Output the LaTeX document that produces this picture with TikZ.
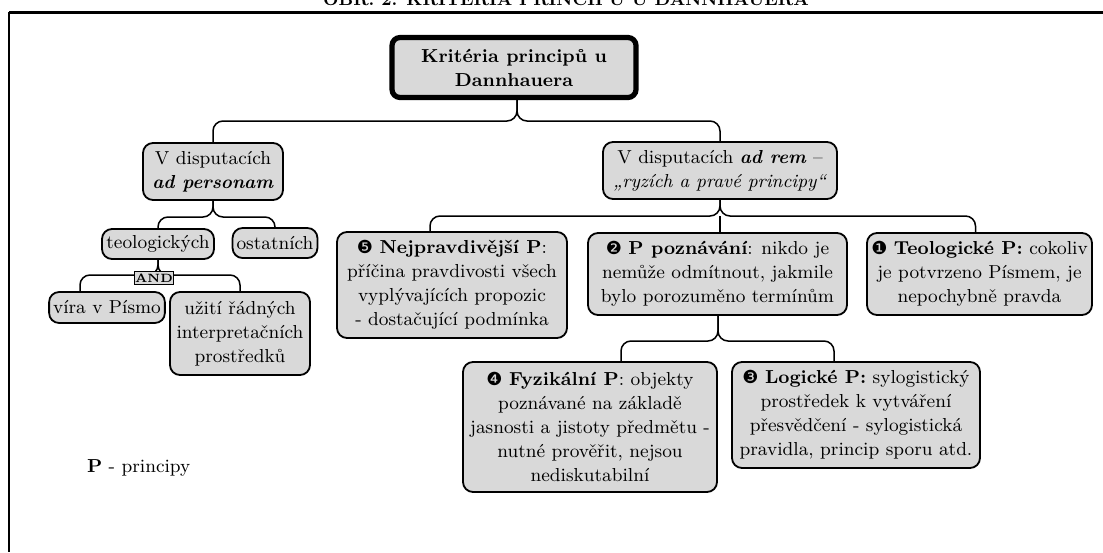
\documentclass[tikz,border=0pt]{standalone}
\usepackage{fontspec}
\newfontfamily\dingfont{DejaVu Sans}
\definecolor{boxgray}{RGB}{217,217,217}
\tikzstyle{every node}=[font=\fontsize{9.4}{12}\selectfont, align=center]
\tikzstyle{topic}=[draw, fill=boxgray, rounded corners=5pt, line width=0.9pt, inner sep=2pt]
\tikzstyle{brace}=[rounded corners=5pt, line width=0.75pt]
\newcommand{\num}[1]{{\dingfont\small #1}}

\begin{document}
\begin{tikzpicture}[x=0.5pt, y=-0.5pt]
\useasboundingbox (0,0) rectangle (1103,552);
% Frame and caption
    \node[anchor=base, font=\fontsize{8.7}{10}\selectfont\bfseries] (caption) at (566,5) {OBR. 2: KRITÉRIA PRINCIPŮ U DANNHAUERA};
    \draw[line width=1.5pt] (9,12) -- (1103,12);
    \draw[line width=0.8pt] (9,12) -- (9,552);
% Root
    \node[topic, line width=2.6pt, rounded corners=4pt, minimum width=122pt, minimum height=30pt] (root) at (514,67.5) {\textbf{Kritéria principů u}\\\textbf{Dannhauera}};
% Disputations
    \node[topic, minimum width=70pt, minimum height=28.5pt] (pers) at (213,171.5) {V disputacích\\\textbf{\textit{ad personam}}};
    \node[topic, minimum width=117pt, minimum height=28.5pt] (rem) at (720,170.5) {V disputacích \textbf{\textit{ad rem}} --\\\textit{„ryzích a pravé principy“}};
% Ad personam
    \node[topic, minimum width=56pt, minimum height=15pt] (teol) at (158,244) {teologických};
    \node[topic, minimum width=42pt, minimum height=15pt] (ost) at (275,243) {ostatních};
    \node[topic, minimum width=50pt, minimum height=15.5pt] (vira) at (107,307.5) {víra v Písmo};
    \node[topic, minimum width=70pt, minimum height=41.5pt] (uziti) at (240,333.5) {užití řádných\\interpretačních\\prostředků};
% Ad rem
    \node[topic, minimum width=115pt, minimum height=53pt] (nej) at (452,285) {\num{❺} \textbf{Nejpravdivější P}:\\příčina pravdivosti všech\\vyplývajících propozic\\- dostačující podmínka};
    \node[topic, minimum width=129.5pt, minimum height=41pt] (pozn) at (717.5,274) {\num{❷} \textbf{P poznávání}: nikdo je\\nemůže odmítnout, jakmile\\bylo porozuměno termínům};
    \node[topic, minimum width=112.5pt, minimum height=41pt] (teolp) at (979.5,274) {\num{❶} \textbf{Teologické P:} cokoliv\\je potvrzeno Písmem, je\\nepochybně pravda};
    \node[topic, minimum width=127pt, minimum height=65pt] (fyz) at (590,427) {\num{❹} \textbf{Fyzikální P}: objekty\\poznávané na základě\\jasnosti a jistoty předmětu -\\nutné prověřit, nejsou\\nediskutabilní};
    \node[topic, minimum width=124pt, minimum height=53pt] (log) at (856,415) {\num{❸} \textbf{Logické P:} sylogistický\\prostředek k vytváření\\přesvědčení - sylogistická\\pravidla, princip sporu atd.};
% Legend
    \node[anchor=west] (legend) at (80,468) {\textbf{P} - principy};
% Braces
    \coordinate (j1) at (517,121);
    \coordinate (j2) at (213,217);
    \coordinate (j3) at (158,275);
    \coordinate (j4) at (720,216);
    \coordinate (j5) at (718,341);
    \draw[brace] (pers.north) |- (j1) -- (j1 |- root.south);
    \draw[brace] (rem.north) |- (j1) -- (j1 |- root.south);
    \draw[brace] (teol.north) |- (j2) -- (j2 |- pers.south);
    \draw[brace] (ost.north) |- (j2) -- (j2 |- pers.south);
    \draw[brace] ([xshift=-13.5pt]vira.north) |- (j3) -- (j3 |- teol.south);
    \draw[brace] (uziti.north) |- (j3) -- (j3 |- teol.south);
    \draw[brace] ([xshift=-11pt]nej.north) |- (j4) -- (j4 |- rem.south);
    \draw[brace] ([xshift=-2pt]teolp.north) |- (j4) -- (j4 |- rem.south);
    \draw[brace] (j4) -- (j4 |- pozn.north);
    \draw[brace] ([xshift=15.5pt]fyz.north) |- (j5) -- (j5 |- pozn.south);
    \draw[brace] ([xshift=-11pt]log.north) |- (j5) -- (j5 |- pozn.south);
% AND label
    \node[draw, fill=boxgray, line width=0.5pt, inner sep=0.5pt, minimum width=19pt, minimum height=6.5pt, font=\fontsize{6}{6}\selectfont\bfseries] (and) at (154,278) {AND};
\end{tikzpicture}
\end{document}
